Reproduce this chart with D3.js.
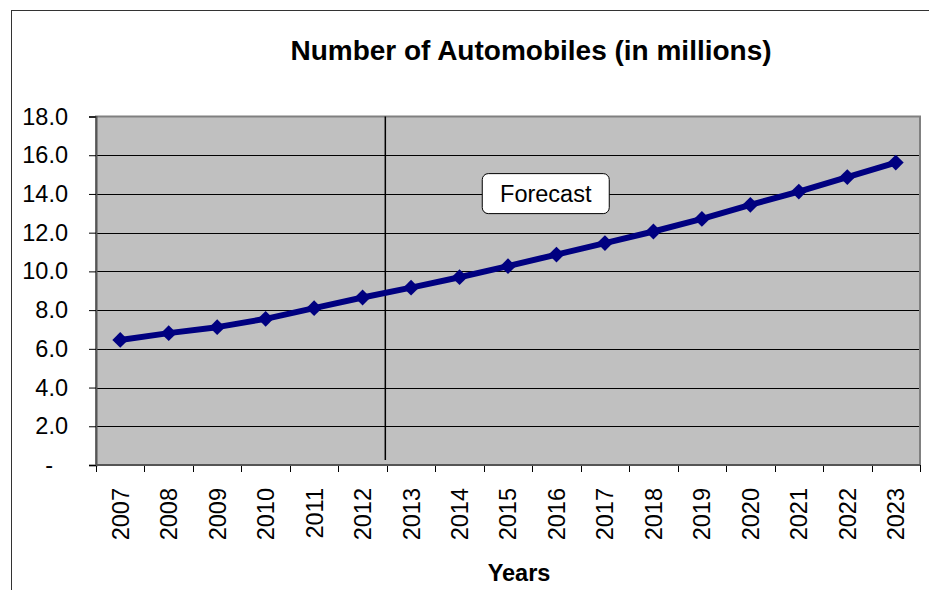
<!DOCTYPE html>
<html>
<head>
<meta charset="utf-8">
<script src="https://cdn.jsdelivr.net/npm/d3@7"></script>
<style>
  html, body { margin: 0; padding: 0; background: #fff; }
  svg { display: block; }
  text { font-family: "Liberation Sans", Arial, sans-serif; }
</style>
</head>
<body>
<svg id="chart" width="929" height="590"></svg>
<script>
const years = ["2007","2008","2009","2010","2011","2012","2013","2014","2015","2016","2017","2018","2019","2020","2021","2022","2023"];
const automobiles = [6.46, 6.81, 7.12, 7.55, 8.10, 8.65, 9.16, 9.70, 10.27, 10.87, 11.46, 12.06, 12.71, 13.44, 14.12, 14.87, 15.62];
const yTicks = [0, 2, 4, 6, 8, 10, 12, 14, 16, 18];
const forecastStartYear = "2013";
const titleText = "Number of Automobiles (in millions)";
const xTitle = "Years";
const forecastLabel = "Forecast";

const svg = d3.select("#chart");
const plot = { left: 96, right: 920, top: 116.5, bottom: 465 };
const labelSize = 23.5;

// outer chart frame (cropped on right/bottom)
svg.append("rect")
  .attr("x", 11.5).attr("y", 10.5)
  .attr("width", 1000).attr("height", 1000)
  .attr("fill", "none").attr("stroke", "#333").attr("stroke-width", 1);

const x = d3.scaleBand().domain(years).range([plot.left, plot.right]).padding(0);
const y = d3.scaleLinear().domain([0, 18]).range([plot.bottom, plot.top]);

// plot background
svg.append("rect")
  .attr("x", plot.left).attr("y", plot.top)
  .attr("width", plot.right - plot.left).attr("height", plot.bottom - plot.top)
  .attr("fill", "#c0c0c0");

// gridlines
svg.append("g").selectAll("line")
  .data(yTicks.filter(d => d > 0 && d < 18))
  .join("line")
  .attr("x1", plot.left).attr("x2", plot.right)
  .attr("y1", d => Math.round(y(d)) + 0.5).attr("y2", d => Math.round(y(d)) + 0.5)
  .attr("stroke", "#000").attr("stroke-width", 1);

// plot border
svg.append("rect")
  .attr("x", plot.left).attr("y", plot.top)
  .attr("width", plot.right - plot.left).attr("height", plot.bottom - plot.top)
  .attr("fill", "none").attr("stroke", "#808080").attr("stroke-width", 2);

// y axis
const yAxis = d3.axisLeft(y).tickValues(yTicks).tickSize(7).tickPadding(21)
  .tickFormat(d => d === 0 ? "-" : d3.format(".1f")(d));
const gy = svg.append("g").attr("transform", `translate(${plot.left},0)`).call(yAxis);
gy.select(".domain").attr("stroke", "#555").attr("stroke-width", 2);
gy.selectAll(".tick line").attr("stroke", "#000");
gy.selectAll(".tick text")
  .attr("font-size", labelSize).attr("fill", "#000")
  .attr("font-family", "'Liberation Sans', Arial, sans-serif")
  .attr("dx", d => d === 0 ? -15 : 0);

// x axis: ticks at category boundaries
const boundaries = years.map(d => x(d)).concat([plot.right]);
const gx = svg.append("g");
gx.selectAll("line.tick")
  .data(boundaries)
  .join("line")
  .attr("class", "tick")
  .attr("x1", d => Math.round(d) + 0.5).attr("x2", d => Math.round(d) + 0.5)
  .attr("y1", plot.bottom).attr("y2", plot.bottom + 7)
  .attr("stroke", "#000");
gx.append("line")
  .attr("x1", plot.left).attr("x2", plot.right)
  .attr("y1", plot.bottom).attr("y2", plot.bottom)
  .attr("stroke", "#555").attr("stroke-width", 2);
gx.selectAll("text")
  .data(years)
  .join("text")
  .attr("transform", d => `translate(${x(d) + x.bandwidth() / 2},${plot.bottom + 23}) rotate(-90)`)
  .attr("text-anchor", "end")
  .attr("dy", "0.36em")
  .attr("font-size", labelSize)
  .attr("fill", "#000")
  .text(d => d);

// forecast divider line
const divX = x(forecastStartYear) - 1.5;
svg.append("line")
  .attr("x1", divX).attr("x2", divX)
  .attr("y1", plot.top).attr("y2", plot.bottom - 5)
  .attr("stroke", "#000").attr("stroke-width", 1.5);

// data line
const line = d3.line()
  .x((d, i) => x(years[i]) + x.bandwidth() / 2)
  .y(d => y(d));
svg.append("path")
  .datum(automobiles)
  .attr("d", line)
  .attr("fill", "none")
  .attr("stroke", "#000080")
  .attr("stroke-width", 6)
  .attr("stroke-linejoin", "round");

// diamond markers
const diamond = d3.symbol().type(d3.symbolSquare).size(125);
svg.append("g").selectAll("path")
  .data(automobiles)
  .join("path")
  .attr("d", diamond)
  .attr("transform", (d, i) => `translate(${x(years[i]) + x.bandwidth() / 2},${y(d)}) rotate(45)`)
  .attr("fill", "#000080");

// forecast label box
const boxG = svg.append("g");
const bx0 = x("2015") - 1.5, by0 = y(15.05);
const boxW = 127, boxH = 40;
boxG.append("rect")
  .attr("x", bx0).attr("y", by0)
  .attr("width", boxW).attr("height", boxH)
  .attr("rx", 6).attr("ry", 6)
  .attr("fill", "#fff").attr("stroke", "#000").attr("stroke-width", 1);
boxG.append("text")
  .attr("x", bx0 + boxW / 2).attr("y", by0 + boxH / 2)
  .attr("dy", "0.36em")
  .attr("text-anchor", "middle")
  .attr("font-size", labelSize)
  .attr("fill", "#000")
  .text(forecastLabel);

// title
svg.append("text")
  .attr("x", 531).attr("y", 60)
  .attr("text-anchor", "middle")
  .attr("font-size", 28).attr("font-weight", "bold")
  .attr("fill", "#000")
  .text(titleText);

// x axis title
svg.append("text")
  .attr("x", 519).attr("y", 581)
  .attr("text-anchor", "middle")
  .attr("font-size", labelSize).attr("font-weight", "bold")
  .attr("fill", "#000")
  .text(xTitle);
</script>
</body>
</html>
